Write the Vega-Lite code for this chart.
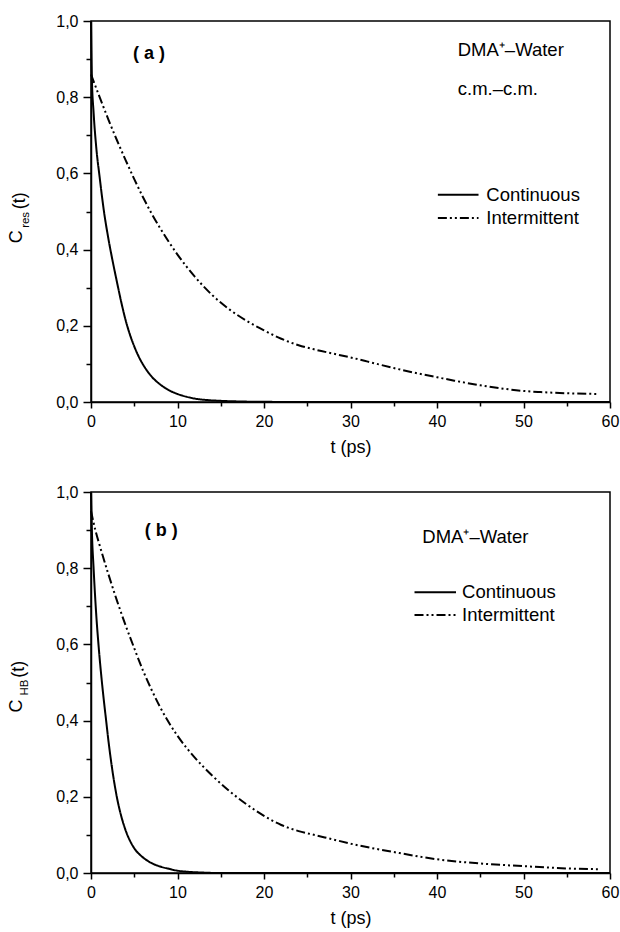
{
  "$schema": "https://vega.github.io/schema/vega-lite/v6.json",
  "autosize": {"type": "none"},
  "padding": {"left": 91, "top": 21, "right": 529, "bottom": 911},
  "background": "white",
  "config": {
    "font": "Liberation Sans",
    "view": {"stroke": "black", "strokeWidth": 1.5},
    "axis": {
      "domainColor": "black", "domainWidth": 1.5, "tickColor": "black", "tickWidth": 1.5,
      "labelColor": "black", "titleColor": "black", "labelFont": "Liberation Sans", "labelFontSize": 16,
      "titleFont": "Liberation Sans", "titleFontSize": 18, "titleFontWeight": "normal", "grid": false
    },
    "text": {"font": "Liberation Sans", "color": "black"}
  },
  "datasets": {
    "a": [
      {"t": 0, "c": 1.0, "series": "Continuous"},
      {"t": 0.1, "c": 0.85, "series": "Continuous"},
      {"t": 0.3, "c": 0.76, "series": "Continuous"},
      {"t": 0.6, "c": 0.67, "series": "Continuous"},
      {"t": 1.0, "c": 0.59, "series": "Continuous"},
      {"t": 1.5, "c": 0.5, "series": "Continuous"},
      {"t": 2.0, "c": 0.43, "series": "Continuous"},
      {"t": 2.5, "c": 0.37, "series": "Continuous"},
      {"t": 3.0, "c": 0.315, "series": "Continuous"},
      {"t": 3.5, "c": 0.262, "series": "Continuous"},
      {"t": 4.0, "c": 0.215, "series": "Continuous"},
      {"t": 4.5, "c": 0.177, "series": "Continuous"},
      {"t": 5.0, "c": 0.146, "series": "Continuous"},
      {"t": 5.5, "c": 0.12, "series": "Continuous"},
      {"t": 6.0, "c": 0.099, "series": "Continuous"},
      {"t": 7.0, "c": 0.067, "series": "Continuous"},
      {"t": 8.0, "c": 0.046, "series": "Continuous"},
      {"t": 9.0, "c": 0.031, "series": "Continuous"},
      {"t": 10.0, "c": 0.021, "series": "Continuous"},
      {"t": 11.0, "c": 0.014, "series": "Continuous"},
      {"t": 12.0, "c": 0.009, "series": "Continuous"},
      {"t": 13.5, "c": 0.005, "series": "Continuous"},
      {"t": 15.0, "c": 0.003, "series": "Continuous"},
      {"t": 17.0, "c": 0.0015, "series": "Continuous"},
      {"t": 20.0, "c": 0.0005, "series": "Continuous"},
      {"t": 25.0, "c": 0, "series": "Continuous"},
      {"t": 60.0, "c": 0, "series": "Continuous"},
      {"t": 0, "c": 0.86, "series": "Intermittent"},
      {"t": 1, "c": 0.8, "series": "Intermittent"},
      {"t": 2, "c": 0.742, "series": "Intermittent"},
      {"t": 3, "c": 0.687, "series": "Intermittent"},
      {"t": 4, "c": 0.635, "series": "Intermittent"},
      {"t": 5, "c": 0.585, "series": "Intermittent"},
      {"t": 6, "c": 0.538, "series": "Intermittent"},
      {"t": 7, "c": 0.495, "series": "Intermittent"},
      {"t": 8, "c": 0.456, "series": "Intermittent"},
      {"t": 9, "c": 0.42, "series": "Intermittent"},
      {"t": 10, "c": 0.387, "series": "Intermittent"},
      {"t": 12, "c": 0.329, "series": "Intermittent"},
      {"t": 14, "c": 0.281, "series": "Intermittent"},
      {"t": 16, "c": 0.243, "series": "Intermittent"},
      {"t": 18, "c": 0.213, "series": "Intermittent"},
      {"t": 20, "c": 0.188, "series": "Intermittent"},
      {"t": 22, "c": 0.166, "series": "Intermittent"},
      {"t": 24, "c": 0.149, "series": "Intermittent"},
      {"t": 26, "c": 0.137, "series": "Intermittent"},
      {"t": 28, "c": 0.127, "series": "Intermittent"},
      {"t": 30, "c": 0.117, "series": "Intermittent"},
      {"t": 32, "c": 0.106, "series": "Intermittent"},
      {"t": 35, "c": 0.089, "series": "Intermittent"},
      {"t": 38, "c": 0.074, "series": "Intermittent"},
      {"t": 40, "c": 0.065, "series": "Intermittent"},
      {"t": 42, "c": 0.056, "series": "Intermittent"},
      {"t": 45, "c": 0.044, "series": "Intermittent"},
      {"t": 48, "c": 0.034, "series": "Intermittent"},
      {"t": 50, "c": 0.029, "series": "Intermittent"},
      {"t": 52, "c": 0.026, "series": "Intermittent"},
      {"t": 55, "c": 0.023, "series": "Intermittent"},
      {"t": 58.6, "c": 0.021, "series": "Intermittent"}
    ],
    "b": [
      {"t": 0, "c": 1.0, "series": "Continuous"},
      {"t": 0.1, "c": 0.9, "series": "Continuous"},
      {"t": 0.3, "c": 0.8, "series": "Continuous"},
      {"t": 0.6, "c": 0.68, "series": "Continuous"},
      {"t": 0.9, "c": 0.59, "series": "Continuous"},
      {"t": 1.2, "c": 0.515, "series": "Continuous"},
      {"t": 1.5, "c": 0.45, "series": "Continuous"},
      {"t": 1.75, "c": 0.4, "series": "Continuous"},
      {"t": 2.0, "c": 0.35, "series": "Continuous"},
      {"t": 2.5, "c": 0.265, "series": "Continuous"},
      {"t": 3.0, "c": 0.198, "series": "Continuous"},
      {"t": 3.5, "c": 0.149, "series": "Continuous"},
      {"t": 4.0, "c": 0.112, "series": "Continuous"},
      {"t": 4.5, "c": 0.085, "series": "Continuous"},
      {"t": 5.0, "c": 0.065, "series": "Continuous"},
      {"t": 6.0, "c": 0.041, "series": "Continuous"},
      {"t": 7.0, "c": 0.026, "series": "Continuous"},
      {"t": 8.0, "c": 0.017, "series": "Continuous"},
      {"t": 9.0, "c": 0.011, "series": "Continuous"},
      {"t": 10.0, "c": 0.006, "series": "Continuous"},
      {"t": 11.0, "c": 0.0035, "series": "Continuous"},
      {"t": 12.5, "c": 0.0015, "series": "Continuous"},
      {"t": 15.0, "c": 0, "series": "Continuous"},
      {"t": 60.0, "c": 0, "series": "Continuous"},
      {"t": 0, "c": 0.95, "series": "Intermittent"},
      {"t": 0.5, "c": 0.9, "series": "Intermittent"},
      {"t": 1, "c": 0.86, "series": "Intermittent"},
      {"t": 2, "c": 0.785, "series": "Intermittent"},
      {"t": 3, "c": 0.715, "series": "Intermittent"},
      {"t": 4, "c": 0.65, "series": "Intermittent"},
      {"t": 5, "c": 0.59, "series": "Intermittent"},
      {"t": 6, "c": 0.532, "series": "Intermittent"},
      {"t": 7, "c": 0.481, "series": "Intermittent"},
      {"t": 8, "c": 0.435, "series": "Intermittent"},
      {"t": 9, "c": 0.395, "series": "Intermittent"},
      {"t": 10, "c": 0.36, "series": "Intermittent"},
      {"t": 12, "c": 0.303, "series": "Intermittent"},
      {"t": 14, "c": 0.256, "series": "Intermittent"},
      {"t": 16, "c": 0.215, "series": "Intermittent"},
      {"t": 18, "c": 0.18, "series": "Intermittent"},
      {"t": 20, "c": 0.15, "series": "Intermittent"},
      {"t": 22, "c": 0.126, "series": "Intermittent"},
      {"t": 24, "c": 0.11, "series": "Intermittent"},
      {"t": 26, "c": 0.099, "series": "Intermittent"},
      {"t": 28, "c": 0.088, "series": "Intermittent"},
      {"t": 30, "c": 0.077, "series": "Intermittent"},
      {"t": 35, "c": 0.055, "series": "Intermittent"},
      {"t": 40, "c": 0.036, "series": "Intermittent"},
      {"t": 45, "c": 0.025, "series": "Intermittent"},
      {"t": 50, "c": 0.018, "series": "Intermittent"},
      {"t": 55, "c": 0.012, "series": "Intermittent"},
      {"t": 58.6, "c": 0.01, "series": "Intermittent"}
    ],
    "legA": [
      {"series": "Continuous", "t": 40.1, "t2": 44.8, "tl": 45.7, "c": 0.544},
      {"series": "Intermittent", "t": 40.1, "t2": 44.8, "tl": 45.7, "c": 0.483}
    ],
    "legB": [
      {"series": "Continuous", "t": 37.4, "t2": 42.2, "tl": 42.9, "c": 0.737},
      {"series": "Intermittent", "t": 37.4, "t2": 42.2, "tl": 42.9, "c": 0.677}
    ],
    "labA_bold": [{"label": "( a )", "t": 6.7, "c": 0.914}],
    "labA": [{"label": "DMA⁺–Water", "t": 42.4, "c": 0.925}, {"label": "c.m.–c.m.", "t": 42.4, "c": 0.822}],
    "ytA": [{"label": "C", "t": -8.52, "c": 0.434}, {"label": "(t)", "t": -8.23, "c": 0.528}],
    "ytA_sub": [{"label": "res", "t": -7.53, "c": 0.478}],
    "labB_bold": [{"label": "( b )", "t": 8.13, "c": 0.898}],
    "labB": [{"label": "DMA⁺–Water", "t": 38.3, "c": 0.882}],
    "ytB": [{"label": "C", "t": -8.58, "c": 0.438}, {"label": "(t)", "t": -8.29, "c": 0.535}],
    "ytB_sub": [{"label": "HB", "t": -7.6, "c": 0.487}]
  },
  "spacing": 90,
  "bounds": "flush",
  "resolve": {"scale": {"strokeDash": "independent"}},
  "vconcat": [
    {
      "width": 519,
      "height": 381,
      "encoding": {
        "x": {"field": "t", "type": "quantitative", "scale": {"domain": [0, 60], "nice": false},
          "axis": {"title": "t (ps)", "values": [0, 5, 10, 15, 20, 25, 30, 35, 40, 45, 50, 55, 60],
            "labelExpr": "datum.value % 10 == 0 ? format(datum.value, 'd') : ''",
            "tickSize": {"condition": {"test": "datum.value % 10 != 0", "value": 4}, "value": 6},
            "labelPadding": 5, "titlePadding": 9, "labelFlush": false}},
        "y": {"field": "c", "type": "quantitative", "scale": {"domain": [0, 1], "nice": false},
          "axis": {"title": null, "values": [0, 0.1, 0.2, 0.3, 0.4, 0.5, 0.6, 0.7, 0.8, 0.9, 1.0],
            "labelExpr": "round(datum.value * 10) % 2 == 0 ? replace(format(datum.value, '.1f'), '.', ',') : ''",
            "tickSize": {"condition": {"test": "round(datum.value * 10) % 2 != 0", "value": 5}, "value": 8},
            "labelPadding": 5, "labelFlush": false}}
      },
      "layer": [
        {
          "data": {"name": "a"},
          "mark": {"type": "line", "color": "black", "strokeWidth": 2, "interpolate": "monotone"},
          "encoding": {
            "strokeDash": {"field": "series", "type": "nominal",
              "scale": {"domain": ["Continuous", "Intermittent"], "range": [[1, 0], [9, 3, 2, 3, 2, 3]]},
              "legend": null}
          }
        },
        {
          "data": {"name": "legA"},
          "mark": {"type": "rule", "color": "black", "strokeWidth": 2},
          "encoding": {
            "x2": {"field": "t2"},
            "strokeDash": {"field": "series", "type": "nominal", "legend": null}
          }
        },
        {"data": {"name": "legA"}, "mark": {"type": "text", "fontSize": 18.5, "align": "left", "baseline": "middle"}, "encoding": {"x": {"field": "tl", "type": "quantitative"}, "text": {"field": "series"}}},
        {"data": {"name": "labA_bold"}, "mark": {"type": "text", "fontSize": 18, "fontWeight": "bold", "align": "center", "baseline": "middle"}, "encoding": {"text": {"field": "label"}}},
        {"data": {"name": "labA"}, "mark": {"type": "text", "fontSize": 18.5, "align": "left", "baseline": "middle"}, "encoding": {"text": {"field": "label"}}},
        {"data": {"name": "ytA"}, "mark": {"type": "text", "fontSize": 18, "angle": 270, "align": "center", "baseline": "middle"}, "encoding": {"text": {"field": "label"}}},
        {"data": {"name": "ytA_sub"}, "mark": {"type": "text", "fontSize": 11.5, "angle": 270, "align": "center", "baseline": "middle"}, "encoding": {"text": {"field": "label"}}}
      ]
    },
    {
      "width": 519,
      "height": 381,
      "encoding": {
        "x": {"field": "t", "type": "quantitative", "scale": {"domain": [0, 60], "nice": false},
          "axis": {"title": "t (ps)", "values": [0, 5, 10, 15, 20, 25, 30, 35, 40, 45, 50, 55, 60],
            "labelExpr": "datum.value % 10 == 0 ? format(datum.value, 'd') : ''",
            "tickSize": {"condition": {"test": "datum.value % 10 != 0", "value": 4}, "value": 6},
            "labelPadding": 5, "titlePadding": 9, "labelFlush": false}},
        "y": {"field": "c", "type": "quantitative", "scale": {"domain": [0, 1], "nice": false},
          "axis": {"title": null, "values": [0, 0.1, 0.2, 0.3, 0.4, 0.5, 0.6, 0.7, 0.8, 0.9, 1.0],
            "labelExpr": "round(datum.value * 10) % 2 == 0 ? replace(format(datum.value, '.1f'), '.', ',') : ''",
            "tickSize": {"condition": {"test": "round(datum.value * 10) % 2 != 0", "value": 5}, "value": 8},
            "labelPadding": 5, "labelFlush": false}}
      },
      "layer": [
        {
          "data": {"name": "b"},
          "mark": {"type": "line", "color": "black", "strokeWidth": 2, "interpolate": "monotone"},
          "encoding": {
            "strokeDash": {"field": "series", "type": "nominal",
              "scale": {"domain": ["Continuous", "Intermittent"], "range": [[1, 0], [9, 3, 2, 3, 2, 3]]},
              "legend": null}
          }
        },
        {
          "data": {"name": "legB"},
          "mark": {"type": "rule", "color": "black", "strokeWidth": 2},
          "encoding": {
            "x2": {"field": "t2"},
            "strokeDash": {"field": "series", "type": "nominal", "legend": null}
          }
        },
        {"data": {"name": "legB"}, "mark": {"type": "text", "fontSize": 18.5, "align": "left", "baseline": "middle"}, "encoding": {"x": {"field": "tl", "type": "quantitative"}, "text": {"field": "series"}}},
        {"data": {"name": "labB_bold"}, "mark": {"type": "text", "fontSize": 18, "fontWeight": "bold", "align": "center", "baseline": "middle"}, "encoding": {"text": {"field": "label"}}},
        {"data": {"name": "labB"}, "mark": {"type": "text", "fontSize": 18.5, "align": "left", "baseline": "middle"}, "encoding": {"text": {"field": "label"}}},
        {"data": {"name": "ytB"}, "mark": {"type": "text", "fontSize": 18, "angle": 270, "align": "center", "baseline": "middle"}, "encoding": {"text": {"field": "label"}}},
        {"data": {"name": "ytB_sub"}, "mark": {"type": "text", "fontSize": 11.5, "angle": 270, "align": "center", "baseline": "middle"}, "encoding": {"text": {"field": "label"}}}
      ]
    }
  ]
}
